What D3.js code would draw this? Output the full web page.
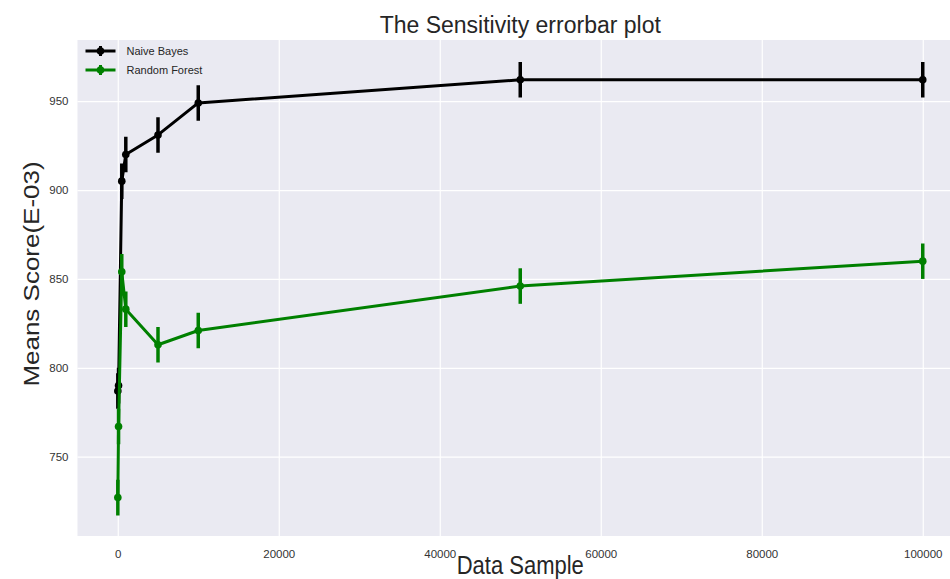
<!DOCTYPE html>
<html>
<head>
<meta charset="utf-8">
<script src="https://cdn.jsdelivr.net/npm/d3@7"></script>
<style>
  body { margin: 0; background: #fff; }
  svg { display: block; }
</style>
</head>
<body>
<div id="chart"></div>
<script>
// data
var samples = [10, 100, 500, 1000, 5000, 10000, 50000, 100000];
var naiveBayes = [787, 790, 905, 920, 931, 949, 962, 962];
var naiveBayesErr = [10, 10, 10, 10, 10, 10, 10, 10];
var randomForest = [727, 767, 854, 833, 813, 821, 846, 860];
var randomForestErr = [10, 10, 10, 10, 10, 10, 10, 10];
var xTicks = [0, 20000, 40000, 60000, 80000, 100000];
var yTicks = [750, 800, 850, 900, 950];

var series = [
  { name: "Naive Bayes", color: "black", values: naiveBayes, err: naiveBayesErr },
  { name: "Random Forest", color: "green", values: randomForest, err: randomForestErr }
];

function init() {
  var svgWidth = 950, svgHeight = 579;
  var margin = { top: 40, left: 77.5 };
  var chartWidth = 885.5;
  var chartHeight = 496;

  var svg = d3.select("#chart").append("svg")
    .attr("width", svgWidth)
    .attr("height", svgHeight);

  var xScale = d3.scaleLinear().domain([-5000, 105000]).range([0, chartWidth]);
  var yScale = d3.scaleLinear().domain([705.4, 984.4]).range([chartHeight, 0]);

  var chartGroup = svg.append("g")
    .attr("transform", "translate(" + margin.left + "," + margin.top + ")");

  chartGroup.append("rect")
    .attr("width", chartWidth)
    .attr("height", chartHeight)
    .attr("fill", "#eaeaf2");

  svg.append("defs").append("clipPath").attr("id", "clip")
    .append("rect").attr("width", chartWidth).attr("height", chartHeight);

  // grid lines
  chartGroup.append("g").attr("class", "grid")
    .call(d3.axisBottom(xScale).tickValues(xTicks).tickSize(chartHeight).tickFormat(""))
    .call(g => g.select(".domain").remove())
    .selectAll("line").attr("stroke", "#fff").attr("stroke-width", 1.2);

  chartGroup.append("g").attr("class", "grid")
    .call(d3.axisLeft(yScale).tickValues(yTicks).tickSize(-chartWidth).tickFormat(""))
    .call(g => g.select(".domain").remove())
    .selectAll("line").attr("stroke", "#fff").attr("stroke-width", 1.2);

  // tick labels
  var xAxis = chartGroup.append("g")
    .attr("transform", "translate(0," + chartHeight + ")")
    .call(d3.axisBottom(xScale).tickValues(xTicks).tickSize(0).tickPadding(14).tickFormat(d3.format("d")));
  xAxis.select(".domain").remove();

  var yAxis = chartGroup.append("g")
    .call(d3.axisLeft(yScale).tickValues(yTicks).tickSize(0).tickPadding(9).tickFormat(d3.format("d")));
  yAxis.select(".domain").remove();

  chartGroup.selectAll(".tick text")
    .attr("font-family", "'Liberation Sans', Arial, sans-serif")
    .attr("font-size", "11.5px")
    .attr("fill", "#333");

  var plot = chartGroup.append("g").attr("clip-path", "url(#clip)");

  var line = d3.line()
    .x(d => xScale(d[0]))
    .y(d => yScale(d[1]));

  series.forEach(function(s) {
    var pts = samples.map((x, i) => [x, s.values[i], s.err[i]]);
    var g = plot.append("g");

    g.selectAll("line.err")
      .data(pts)
      .enter()
      .append("line")
      .attr("class", "err")
      .attr("x1", d => xScale(d[0]))
      .attr("x2", d => xScale(d[0]))
      .attr("y1", d => yScale(d[1] - d[2]))
      .attr("y2", d => yScale(d[1] + d[2]))
      .attr("stroke", s.color)
      .attr("stroke-width", 3.5);

    g.append("path")
      .datum(pts)
      .attr("d", line)
      .attr("fill", "none")
      .attr("stroke", s.color)
      .attr("stroke-width", 3)
      .attr("stroke-linejoin", "round");

    g.selectAll("circle")
      .data(pts)
      .enter()
      .append("circle")
      .attr("cx", d => xScale(d[0]))
      .attr("cy", d => yScale(d[1]))
      .attr("r", 3.8)
      .attr("fill", s.color);
  });

  // legend
  var legend = chartGroup.append("g").attr("transform", "translate(8,11)");
  series.forEach(function(s, i) {
    var row = legend.append("g").attr("transform", "translate(0," + (i * 19) + ")");
    row.append("line").attr("x1", 0).attr("x2", 30).attr("y1", 0).attr("y2", 0)
      .attr("stroke", s.color).attr("stroke-width", 3);
    row.append("line").attr("x1", 15).attr("x2", 15).attr("y1", -5).attr("y2", 5)
      .attr("stroke", s.color).attr("stroke-width", 3);
    row.append("circle").attr("cx", 15).attr("cy", 0).attr("r", 3.8).attr("fill", s.color);
    row.append("text")
      .attr("x", 41)
      .attr("y", 4)
      .attr("font-family", "'Liberation Sans', Arial, sans-serif")
      .attr("font-size", "11px")
      .attr("fill", "#262626")
      .text(s.name);
  });

  // title and axis labels
  svg.append("text")
    .attr("x", margin.left + chartWidth / 2)
    .attr("y", 33)
    .attr("text-anchor", "middle")
    .attr("font-family", "'Liberation Sans', Arial, sans-serif")
    .attr("font-size", "23px")
    .attr("fill", "#262626")
    .text("The Sensitivity errorbar plot");

  // the labels in the picture look squeezed sideways
  svg.append("text")
    .attr("transform", "translate(" + (margin.left + chartWidth / 2) + ",574) scale(0.88,1)")
    .attr("text-anchor", "middle")
    .attr("font-family", "'Liberation Sans', Arial, sans-serif")
    .attr("font-size", "25px")
    .attr("fill", "#262626")
    .text("Data Sample");

  svg.append("text")
    .attr("transform", "translate(39,274) scale(0.88,1) rotate(-90)")
    .attr("text-anchor", "middle")
    .attr("font-family", "'Liberation Sans', Arial, sans-serif")
    .attr("font-size", "26px")
    .attr("fill", "#262626")
    .text("Means Score(E-03)");
}
window.addEventListener('load', init, false);
</script>
</body>
</html>
